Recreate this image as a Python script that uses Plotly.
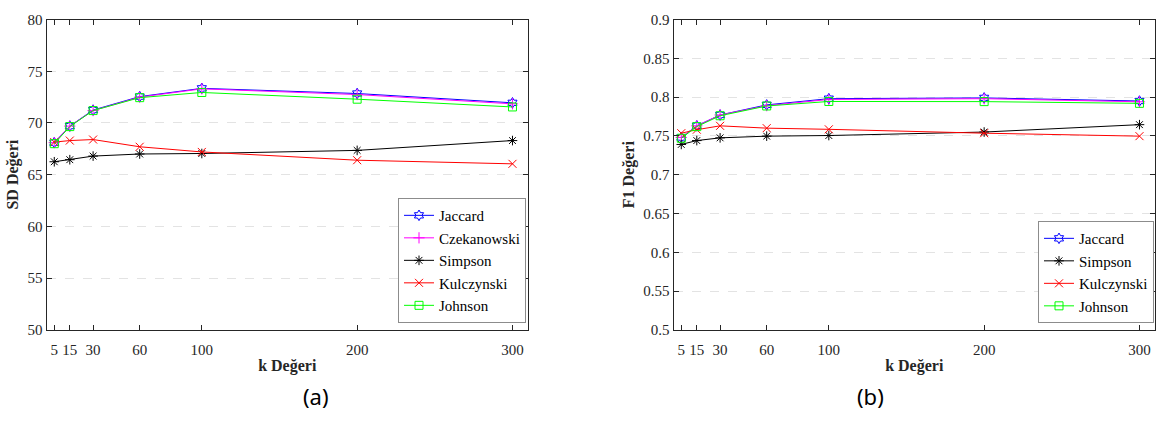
import plotly.graph_objects as go

k = [5, 15, 30, 60, 100, 200, 300]
x_ticks = [5, 15, 30, 60, 100, 200, 300]

# (a) SD values
sd_jaccard = [68.1, 69.7, 71.25, 72.55, 73.35, 72.85, 71.95]
sd_czekanowski = [68.1, 69.7, 71.2, 72.5, 73.3, 72.75, 71.85]
sd_simpson = [66.25, 66.45, 66.8, 67.0, 67.05, 67.35, 68.3]
sd_kulczynski = [68.15, 68.3, 68.4, 67.7, 67.2, 66.4, 66.05]
sd_johnson = [68.0, 69.65, 71.2, 72.45, 72.95, 72.3, 71.55]

# (b) F1 values
f1_jaccard = [0.748, 0.763, 0.777, 0.790, 0.798, 0.799, 0.795]
f1_czekanowski = [0.748, 0.763, 0.777, 0.789, 0.797, 0.798, 0.794]
f1_simpson = [0.739, 0.744, 0.7475, 0.7497, 0.7505, 0.755, 0.7645]
f1_kulczynski = [0.7535, 0.758, 0.763, 0.760, 0.7585, 0.7535, 0.7497]
f1_johnson = [0.747, 0.762, 0.776, 0.7886, 0.7944, 0.7942, 0.792]

W, H = 1157, 439
FONT = "Liberation Serif"
AX = "#262626"

styles = [
    ("Jaccard", "#0000ff", "hexagram-open"),
    ("Czekanowski", "#ff00ff", "cross-thin-open"),
    ("Simpson", "#000000", "asterisk-open"),
    ("Kulczynski", "#ff0000", "x-thin-open"),
    ("Johnson", "#00ff00", "square-open"),
]

fig = go.Figure()
sd_data = [sd_jaccard, sd_czekanowski, sd_simpson, sd_kulczynski, sd_johnson]
f1_data = [f1_jaccard, f1_czekanowski, f1_simpson, f1_kulczynski, f1_johnson]

for (name, col, sym), ys in zip(styles, sd_data):
    fig.add_trace(go.Scatter(x=k, y=ys, name=name, mode="lines+markers",
                             line=dict(color=col, width=1),
                             marker=dict(symbol=sym, size=8, color=col, line=dict(color=col, width=1)),
                             xaxis="x", yaxis="y", legend="legend"))
for (name, col, sym), ys in zip(styles, f1_data):
    fig.add_trace(go.Scatter(x=k, y=ys, name=name, mode="lines+markers",
                             line=dict(color=col, width=1),
                             marker=dict(symbol=sym, size=8, color=col, line=dict(color=col, width=1)),
                             showlegend=(name != "Czekanowski"),
                             xaxis="x2", yaxis="y2", legend="legend2"))

def px_x(p):
    return p / W

def px_y(p):
    return (H - p) / H

common_x = dict(range=[0, 310], tickvals=x_ticks, ticktext=[str(v) for v in x_ticks],
                ticks="inside", ticklen=5, tickcolor=AX, showline=True, linecolor=AX, linewidth=1,
                mirror="ticks", showgrid=False, zeroline=False, ticklabelstandoff=6, tickangle=0,
                tickfont=dict(family=FONT, size=15, color=AX),
                title=dict(text="<b>k Değeri</b>", font=dict(family=FONT, size=16, color=AX), standoff=2))
common_y = dict(ticks="inside", ticklen=5, tickcolor=AX, showline=True, linecolor=AX, linewidth=1,
                mirror="ticks", showgrid=True, gridcolor="#e3e3e3", griddash="dash", gridwidth=1,
                zeroline=False, tickfont=dict(family=FONT, size=15, color=AX))

fig.update_layout(
    width=W, height=H, margin=dict(l=0, r=0, t=0, b=0),
    plot_bgcolor="white", paper_bgcolor="white",
    font=dict(family=FONT),
    xaxis=dict(domain=[px_x(46.5), px_x(528)], anchor="y", **common_x),
    yaxis=dict(domain=[px_y(334), px_y(12)], anchor="x", range=[50, 80], dtick=5,
               title=dict(text="<b>SD Değeri</b>", font=dict(family=FONT, size=16, color=AX), standoff=4),
               **common_y),
    xaxis2=dict(domain=[px_x(673.5), px_x(1155)], anchor="y2", **common_x),
    yaxis2=dict(domain=[px_y(334), px_y(12)], anchor="x2", range=[0.5, 0.9], dtick=0.05,
                title=dict(text="<b>F1 Değeri</b>", font=dict(family=FONT, size=16, color=AX), standoff=4),
                **common_y),
    legend=dict(x=px_x(398), y=px_y(327), xanchor="left", yanchor="bottom",
                bgcolor="white", bordercolor="#8c8c8c", borderwidth=1,
                font=dict(family=FONT, size=15, color="#000"), tracegroupgap=0,
                itemwidth=30),
    legend2=dict(x=px_x(1038), y=px_y(327), xanchor="left", yanchor="bottom",
                 bgcolor="white", bordercolor="#8c8c8c", borderwidth=1,
                 font=dict(family=FONT, size=15, color="#000"), tracegroupgap=0,
                 itemwidth=30),
    annotations=[
        dict(text="(a)", x=px_x(301), y=px_y(420), xref="paper", yref="paper",
             showarrow=False, font=dict(family="Noto Sans", size=22, color="#000")),
        dict(text="(b)", x=px_x(886), y=px_y(420), xref="paper", yref="paper",
             showarrow=False, font=dict(family="Noto Sans", size=22, color="#000")),
    ],
)

fig.write_html("out.html")
